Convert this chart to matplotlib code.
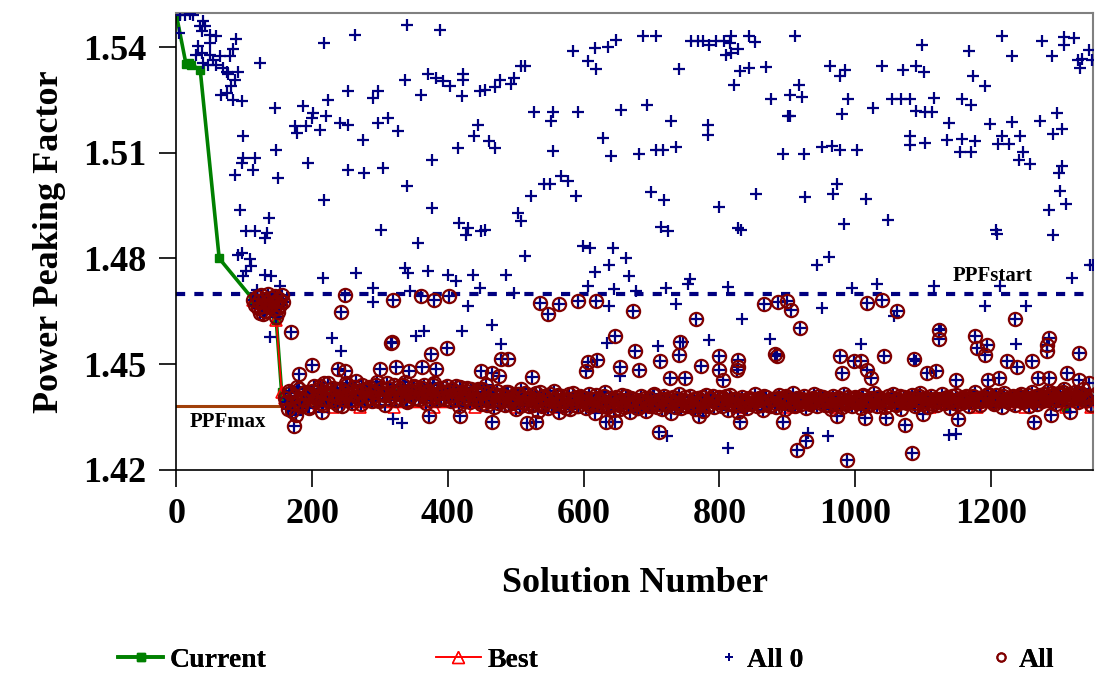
import numpy as np
import matplotlib
matplotlib.use("Agg")
import matplotlib.pyplot as plt
from matplotlib.lines import Line2D

plt.rcParams['font.family'] = ['Liberation Serif', 'DejaVu Serif']
plt.rcParams['font.weight'] = 'bold'

# Current solution trace (solution number, PPF)
current_x = [0, 14, 18, 22, 35, 63, 113, 120, 128, 136, 142, 147, 155, 160, 168, 175,
             195, 230, 270, 320, 380, 440, 500, 560, 620, 690, 760, 830, 900, 970,
             1040, 1110, 1180, 1250, 1311, 1348]
current_y = [1.5490, 1.5352, 1.5355, 1.5350, 1.5335, 1.4800, 1.4683, 1.4672, 1.4665, 1.4668,
             1.4660, 1.4626, 1.4420, 1.4405, 1.4390, 1.4377, 1.4398, 1.4412, 1.4405, 1.4418,
             1.4402, 1.4395, 1.4408, 1.4392, 1.4388, 1.4400, 1.4395, 1.4385, 1.4398, 1.4390,
             1.4402, 1.4395, 1.4388, 1.4392, 1.4378, 1.4395]

ppf_start = 1.470
ppf_max = 1.438

# solutions rejected (only "All 0", no circle)
all0_x = [5, 12, 20, 25, 39, 42, 34, 37, 49, 59, 88, 4, 49, 32, 83, 29, 37, 49, 64, 79,
          54, 123, 39, 47, 59, 69, 74, 91, 76, 86, 81, 66, 74, 83, 96, 145,
          339, 388, 263, 218, 336, 371, 383, 393, 403, 422, 422, 447, 253, 297, 290, 361,
          420, 223, 187, 201, 199, 221, 174, 191, 177, 211, 241, 253, 297, 312, 327, 275,
          444, 439, 415, 98, 147, 98, 115, 96, 113, 86, 150, 194, 253, 277, 304, 376,
          339, 218, 376, 93, 137, 103, 115, 133, 130, 302, 417, 430, 427, 449, 356, 91,
          96, 108, 110, 103, 98, 130, 140, 216, 265, 336, 341, 371, 400, 412, 437, 447,
          118, 152, 290, 344,
          454, 469, 476, 493, 498, 508, 513, 584, 606, 618, 616, 636, 648, 687, 707, 741,
          758, 768, 776, 785, 795, 807, 817, 815, 810, 817, 827, 844, 852, 830, 844, 869,
          822, 876, 901, 527, 555, 552, 591, 655, 694, 729, 783, 783, 461, 469, 555, 628,
          640, 682, 707, 717, 736, 893, 542, 550, 567, 577, 523, 589, 699, 719, 800, 854,
          503, 508, 454, 714, 724, 827, 832, 599, 609, 643, 663, 638, 616, 513, 486, 667,
          606, 645, 677, 721, 756, 753, 812, 498,
          912, 1098, 1167, 1216, 1231, 1275, 1290, 1307, 1322, 1307, 1344, 1329, 1334, 1349,
          1332, 963, 978, 985, 1039, 1071, 1089, 1101, 917, 904, 922, 1174, 1191, 990, 1054,
          1067, 1081, 1116, 1157, 1170, 981, 1027, 1089, 1103, 1113, 904, 1138, 1199, 1231,
          1273, 1297, 1292, 1305, 1081, 1081, 1103, 1135, 1157, 1177, 1155, 1170, 1216, 1211,
          1226, 1243, 1248, 1241, 1258, 924, 951, 966, 977, 1003, 973, 968, 926, 1016, 1305,
          1300, 1302, 1310, 1285, 1292, 1207, 1209, 984, 1049, 944, 961, 1346, 1319, 995,
          1032, 1116, 1214, 1350,
          289, 429, 637, 736, 951, 1057, 1192, 1252, 833, 465, 1127, 229, 353, 364, 420, 243,
          478, 634, 710, 746, 785, 874, 1009, 1237, 1089, 653, 319, 332, 723, 813, 930, 960,
          1138, 1149, 138]
all0_y = [1.5490, 1.5490, 1.5495, 1.5490, 1.5473, 1.5460, 1.5459, 1.5445, 1.5435, 1.5430,
          1.5423, 1.5440, 1.5410, 1.5404, 1.5394, 1.5378, 1.5383, 1.5378, 1.5374, 1.5374,
          1.5364, 1.5355, 1.5355, 1.5350, 1.5350, 1.5340, 1.5330, 1.5330, 1.5322, 1.5307,
          1.5288, 1.5265, 1.5270, 1.5250, 1.5246, 1.5227,
          1.5463, 1.5449, 1.5435, 1.5411, 1.5307, 1.5322, 1.5312, 1.5303, 1.5288, 1.5322,
          1.5307, 1.5274, 1.5274, 1.5274, 1.5255, 1.5265, 1.5260, 1.5250, 1.5232, 1.5213,
          1.5199, 1.5203, 1.5175, 1.5175, 1.5156, 1.5165, 1.5184, 1.5180, 1.5184, 1.5199,
          1.5161, 1.5137, 1.5180, 1.5146, 1.5113, 1.5146, 1.5109, 1.5085, 1.5085, 1.5071,
          1.5052, 1.5038, 1.5028, 1.5071, 1.5052, 1.5042, 1.5057, 1.5080, 1.5005, 1.4967,
          1.4943, 1.4938, 1.4915, 1.4877, 1.4877, 1.4872, 1.4858, 1.4882, 1.4901, 1.4886,
          1.4865, 1.4877, 1.4844, 1.4811, 1.4815, 1.4797, 1.4778, 1.4763, 1.4749, 1.4754,
          1.4749, 1.4744, 1.4759, 1.4773, 1.4759, 1.4763, 1.4754, 1.4735, 1.4754, 1.4716,
          1.4711, 1.4721, 1.4716, 1.4707,
          1.5279, 1.5287, 1.5307, 1.5296, 1.5312, 1.5347, 1.5347, 1.5388, 1.5359, 1.5338,
          1.5397, 1.5400, 1.5421, 1.5430, 1.5430, 1.5338, 1.5416, 1.5416, 1.5416, 1.5407,
          1.5416, 1.5416, 1.5430, 1.5411, 1.5378, 1.5383, 1.5394, 1.5430, 1.5413, 1.5333,
          1.5340, 1.5343, 1.5293, 1.5251, 1.5203, 1.5215, 1.5215, 1.5189, 1.5215, 1.5222,
          1.5234, 1.5189, 1.5180, 1.5151, 1.5132, 1.5113, 1.5104, 1.5142, 1.5092, 1.5097,
          1.5109, 1.5107, 1.5116, 1.5097, 1.5012, 1.5012, 1.5033, 1.5019, 1.4976, 1.4978,
          1.4988, 1.4965, 1.4946, 1.4984, 1.4929, 1.4905, 1.4880, 1.4889, 1.4877, 1.4886,
          1.4882, 1.4834, 1.4830, 1.4830, 1.4801, 1.4782, 1.4761, 1.4806, 1.4754, 1.4749,
          1.4723, 1.4713, 1.4707, 1.4716, 1.4742, 1.4726, 1.4719, 1.4702,
          1.5430, 1.5407, 1.5388, 1.5430, 1.5374, 1.5416, 1.5374, 1.5428, 1.5426, 1.5407,
          1.5392, 1.5364, 1.5366, 1.5364, 1.5340, 1.5347, 1.5319, 1.5336, 1.5345, 1.5334,
          1.5347, 1.5328, 1.5293, 1.5265, 1.5258, 1.5317, 1.5290, 1.5251, 1.5252, 1.5252,
          1.5252, 1.5255, 1.5252, 1.5236, 1.5211, 1.5226, 1.5217, 1.5215, 1.5215, 1.5205,
          1.5184, 1.5182, 1.5186, 1.5189, 1.5213, 1.5154, 1.5167, 1.5148, 1.5123, 1.5128,
          1.5137, 1.5139, 1.5132, 1.5101, 1.5101, 1.5148, 1.5126, 1.5126, 1.5148, 1.5101,
          1.5080, 1.5069, 1.5097, 1.5116, 1.5118, 1.5109, 1.5109, 1.5012, 1.4984, 1.4974,
          1.4969, 1.5063, 1.5041, 1.4990, 1.4953, 1.4938, 1.4867, 1.4880, 1.4870, 1.4899,
          1.4910, 1.4782, 1.4804, 1.4782, 1.4744, 1.4716, 1.4726, 1.4721, 1.4723, 1.4780,
          1.4675, 1.4666, 1.4666, 1.4671, 1.4659, 1.4637, 1.4666, 1.4664, 1.4628, 1.4612,
          1.4599, 1.4574, 1.4579, 1.4593, 1.4593, 1.4536, 1.4558, 1.4560, 1.4552, 1.4564,
          1.4567, 1.4571, 1.4558, 1.4558, 1.4508, 1.4467, 1.4344, 1.4333, 1.4295, 1.4262,
          1.4304, 1.4297, 1.4300, 1.4302, 1.4577]

# accepted solutions off the main band (circled)
all_x = [113, 116, 118, 120, 122, 125, 127, 129, 131, 133, 135, 137, 139, 141, 143, 145,
         147, 149, 151, 153, 155, 157, 128, 146, 150, 123,
         248, 243, 319, 360, 379, 401, 536, 564, 547, 591, 618, 672, 765, 866, 887, 900,
         906, 1017, 1039, 1061, 1236, 919, 169, 317, 1124, 1124, 1176, 1194, 1179, 1192,
         1286, 1282, 1282, 1330, 646, 676, 742, 740, 713, 799, 828, 828, 882, 885, 977, 998,
         1009, 1043, 1086, 1224, 1260, 1239, 980, 1017, 1024, 1106, 1119, 1149, 1196, 1212,
         1269, 1286, 1312, 1330, 1344, 316, 375, 398, 478, 489, 200, 180, 238, 248, 300, 323,
         343, 362, 383, 448, 465, 475, 524, 606, 620, 603, 654, 682, 773, 799, 805, 826, 749,
         727,
         173, 214, 372, 418, 465, 517, 530, 633, 646, 770, 831, 893, 973, 1014, 1046, 1074,
         1100, 1151, 1263, 1289, 711, 914, 928, 988, 1084, 1316]
all_y = [1.4683, 1.4668, 1.4690, 1.4660, 1.4678, 1.4695, 1.4665, 1.4685, 1.4652, 1.4675,
         1.4698, 1.4662, 1.4688, 1.4670, 1.4655, 1.4692, 1.4678, 1.4660, 1.4685, 1.4668,
         1.4695, 1.4675, 1.4642, 1.4635, 1.4648, 1.4646,
         1.4697, 1.4647, 1.4683, 1.4694, 1.4681, 1.4694, 1.4673, 1.4671, 1.4643, 1.4678,
         1.4680, 1.4650, 1.4628, 1.4671, 1.4675, 1.4678, 1.4654, 1.4673, 1.4681, 1.4650,
         1.4628, 1.4602, 1.4591, 1.4563, 1.4597, 1.4571, 1.4580, 1.4555, 1.4545, 1.4527,
         1.4574, 1.4555, 1.4536, 1.4531, 1.4580, 1.4536, 1.4562, 1.4527, 1.4510, 1.4524,
         1.4512, 1.4492, 1.4529, 1.4524, 1.4524, 1.4510, 1.4510, 1.4522, 1.4514, 1.4510,
         1.4510, 1.4492, 1.4476, 1.4484, 1.4460, 1.4476, 1.4479, 1.4456, 1.4456, 1.4460,
         1.4460, 1.4460, 1.4474, 1.4456, 1.4446, 1.4561, 1.4529, 1.4545, 1.4514, 1.4514,
         1.4498, 1.4473, 1.4486, 1.4479, 1.4486, 1.4493, 1.4479, 1.4492, 1.4486, 1.4479,
         1.4476, 1.4467, 1.4463, 1.4505, 1.4512, 1.4479, 1.4492, 1.4484, 1.4495, 1.4484,
         1.4456, 1.4484, 1.4460, 1.4460,
         1.4323, 1.4363, 1.4353, 1.4353, 1.4335, 1.4333, 1.4335, 1.4335, 1.4335, 1.4353,
         1.4335, 1.4337, 1.4353, 1.4347, 1.4347, 1.4328, 1.4359, 1.4344, 1.4337, 1.4356,
         1.4306, 1.4257, 1.4281, 1.4229, 1.4249, 1.4363]

# main band of accepted solutions, every 4th solution from 160
band_x = np.arange(160, 1349, 4)
band_y = [1.4405, 1.4372, 1.4418, 1.4390, 1.4355, 1.4428, 1.4381, 1.4398, 1.4412, 1.4376,
          1.4425, 1.4395, 1.4410, 1.4438, 1.4385, 1.4402, 1.4447, 1.4415, 1.4392, 1.4430,
          1.4408, 1.4380, 1.4422, 1.4440, 1.4398, 1.4415, 1.4452, 1.4405, 1.4388, 1.4426,
          1.4412, 1.4436, 1.4395, 1.4420, 1.4448, 1.4402, 1.4418, 1.4385, 1.4432, 1.4410,
          1.4440, 1.4398, 1.4425, 1.4413, 1.4450, 1.4392, 1.4420, 1.4436, 1.4405, 1.4428,
          1.4415, 1.4442, 1.4390, 1.4422, 1.4408, 1.4445, 1.4398, 1.4418, 1.4432, 1.4402,
          1.4425, 1.4395, 1.4412, 1.4438, 1.4382, 1.4420, 1.4405, 1.4432, 1.4392, 1.4415,
          1.4402, 1.4430, 1.4388, 1.4418, 1.4440, 1.4395, 1.4410, 1.4378, 1.4425, 1.4398,
          1.4412, 1.4385, 1.4420, 1.4395, 1.4405, 1.4372, 1.4415, 1.4428, 1.4390, 1.4402,
          1.4380, 1.4412, 1.4395, 1.4368, 1.4420, 1.4388, 1.4405, 1.4375, 1.4398, 1.4425,
          1.4390, 1.4365, 1.4410, 1.4385, 1.4402, 1.4372, 1.4418, 1.4395, 1.4380, 1.4408,
          1.4392, 1.4375, 1.4415, 1.4388, 1.4362, 1.4405, 1.4398, 1.4380, 1.4420, 1.4385,
          1.4395, 1.4370, 1.4408, 1.4385, 1.4412, 1.4378, 1.4395, 1.4365, 1.4402, 1.4388,
          1.4375, 1.4410, 1.4392, 1.4368, 1.4405, 1.4385, 1.4415, 1.4378, 1.4398, 1.4372,
          1.4400, 1.4385, 1.4362, 1.4408, 1.4390, 1.4415, 1.4375, 1.4398, 1.4382, 1.4410,
          1.4388, 1.4372, 1.4405, 1.4395, 1.4368, 1.4412, 1.4385, 1.4400, 1.4378, 1.4392,
          1.4408, 1.4380, 1.4395, 1.4370, 1.4412, 1.4388, 1.4402, 1.4365, 1.4398, 1.4385,
          1.4375, 1.4405, 1.4390, 1.4415, 1.4380, 1.4398, 1.4370, 1.4408, 1.4392, 1.4385,
          1.4400, 1.4378, 1.4412, 1.4390, 1.4372, 1.4405, 1.4395, 1.4418, 1.4382, 1.4398,
          1.4388, 1.4410, 1.4375, 1.4402, 1.4392, 1.4415, 1.4380, 1.4398, 1.4408, 1.4385,
          1.4395, 1.4372, 1.4410, 1.4388, 1.4405, 1.4378, 1.4415, 1.4392, 1.4400, 1.4382,
          1.4408, 1.4390, 1.4375, 1.4412, 1.4398, 1.4385, 1.4405, 1.4418, 1.4380, 1.4395,
          1.4402, 1.4378, 1.4410, 1.4392, 1.4415, 1.4385, 1.4398, 1.4372, 1.4408, 1.4390,
          1.4395, 1.4412, 1.4382, 1.4400, 1.4418, 1.4388, 1.4405, 1.4378, 1.4410, 1.4395,
          1.4385, 1.4402, 1.4415, 1.4390, 1.4408, 1.4375, 1.4398, 1.4412, 1.4388, 1.4405,
          1.4392, 1.4410, 1.4380, 1.4402, 1.4420, 1.4395, 1.4385, 1.4408, 1.4398, 1.4415,
          1.4405, 1.4388, 1.4412, 1.4395, 1.4378, 1.4418, 1.4400, 1.4390, 1.4410, 1.4385,
          1.4398, 1.4415, 1.4392, 1.4405, 1.4380, 1.4420, 1.4402, 1.4388, 1.4412, 1.4395,
          1.4408, 1.4425, 1.4395, 1.4412, 1.4388, 1.4418, 1.4402, 1.4430, 1.4398, 1.4415,
          1.4405, 1.4422, 1.4392, 1.4415, 1.4428, 1.4398, 1.4410, 1.4385]

# second layer of the band, offset by two solutions
band2_x = np.arange(162, 1347, 4)
band2_y = [1.4392, 1.4425, 1.4368, 1.4410, 1.4435, 1.4385, 1.4402, 1.4420, 1.4378, 1.4415,
           1.4438, 1.4405, 1.4428, 1.4390, 1.4445, 1.4418, 1.4398, 1.4432, 1.4410, 1.4385,
           1.4428, 1.4402, 1.4445, 1.4415, 1.4390, 1.4435, 1.4408, 1.4425, 1.4442, 1.4398,
           1.4430, 1.4405, 1.4422, 1.4440, 1.4395, 1.4428, 1.4412, 1.4445, 1.4402, 1.4420,
           1.4418, 1.4435, 1.4405, 1.4442, 1.4398, 1.4425, 1.4410, 1.4438, 1.4420, 1.4400,
           1.4432, 1.4408, 1.4425, 1.4398, 1.4440, 1.4415, 1.4430, 1.4405, 1.4422, 1.4438,
           1.4410, 1.4428, 1.4400, 1.4420, 1.4435, 1.4395, 1.4425, 1.4412, 1.4430, 1.4402,
           1.4420, 1.4395, 1.4428, 1.4405, 1.4385, 1.4422, 1.4398, 1.4415, 1.4390, 1.4412,
           1.4398, 1.4420, 1.4388, 1.4410, 1.4392, 1.4415, 1.4382, 1.4405, 1.4418, 1.4390,
           1.4405, 1.4385, 1.4418, 1.4398, 1.4380, 1.4410, 1.4392, 1.4415, 1.4385, 1.4402,
           1.4412, 1.4388, 1.4398, 1.4375, 1.4415, 1.4392, 1.4405, 1.4382, 1.4410, 1.4395,
           1.4405, 1.4390, 1.4380, 1.4402, 1.4412, 1.4385, 1.4395, 1.4410, 1.4378, 1.4400,
           1.4385, 1.4402, 1.4392, 1.4372, 1.4398, 1.4410, 1.4382, 1.4405, 1.4390, 1.4375,
           1.4398, 1.4385, 1.4405, 1.4392, 1.4380, 1.4412, 1.4395, 1.4388, 1.4402, 1.4410,
           1.4388, 1.4405, 1.4395, 1.4378, 1.4402, 1.4390, 1.4385, 1.4408, 1.4395, 1.4380,
           1.4402, 1.4390, 1.4385, 1.4408, 1.4395, 1.4380, 1.4400, 1.4410, 1.4392, 1.4405,
           1.4392, 1.4405, 1.4410, 1.4388, 1.4398, 1.4402, 1.4385, 1.4395, 1.4408, 1.4390,
           1.4398, 1.4388, 1.4402, 1.4395, 1.4405, 1.4385, 1.4410, 1.4392, 1.4380, 1.4400,
           1.4390, 1.4405, 1.4395, 1.4402, 1.4410, 1.4388, 1.4398, 1.4385, 1.4405, 1.4392,
           1.4402, 1.4395, 1.4392, 1.4388, 1.4405, 1.4398, 1.4410, 1.4390, 1.4395, 1.4402,
           1.4385, 1.4402, 1.4395, 1.4405, 1.4390, 1.4398, 1.4388, 1.4408, 1.4392, 1.4400,
           1.4395, 1.4402, 1.4410, 1.4390, 1.4385, 1.4400, 1.4392, 1.4395, 1.4408, 1.4402,
           1.4390, 1.4398, 1.4395, 1.4405, 1.4388, 1.4402, 1.4410, 1.4392, 1.4395, 1.4405,
           1.4402, 1.4390, 1.4398, 1.4410, 1.4392, 1.4405, 1.4395, 1.4400, 1.4388, 1.4402,
           1.4398, 1.4392, 1.4402, 1.4405, 1.4395, 1.4410, 1.4390, 1.4398, 1.4402, 1.4392,
           1.4405, 1.4398, 1.4392, 1.4410, 1.4400, 1.4405, 1.4395, 1.4402, 1.4412, 1.4398,
           1.4392, 1.4402, 1.4398, 1.4405, 1.4410, 1.4395, 1.4402, 1.4408, 1.4398, 1.4405,
           1.4410, 1.4402, 1.4398, 1.4412, 1.4405, 1.4395, 1.4410, 1.4402, 1.4398, 1.4415,
           1.4402, 1.4410, 1.4418, 1.4405, 1.4398, 1.4412, 1.4420, 1.4408, 1.4415, 1.4405,
           1.4412, 1.4405, 1.4418, 1.4402, 1.4410, 1.4398, 1.4408]

xticks = [0, 200, 400, 600, 800, 1000, 1200]
yticks = [1.42, 1.45, 1.48, 1.51, 1.54]

# best so far = running minimum of current, tracked from the first accepted solution
best_x = current_x[6:]
best_y = np.minimum.accumulate(current_y[6:])

acc_x = np.concatenate([all_x, band_x, band2_x])
acc_y = np.concatenate([all_y, band_y, band2_y])
a0_x = np.concatenate([all0_x, acc_x])
a0_y = np.concatenate([all0_y, acc_y])

fig = plt.figure(figsize=(10.96, 6.75), dpi=100)
ax = fig.add_axes([0.161, 0.304, 0.836, 0.677])

ax.axhline(ppf_max, color='#A0400A', lw=2.2, zorder=1)
ax.axhline(ppf_start, color='#000080', lw=3, ls=(0, (2.2, 2.2)), zorder=1)

ax.plot(current_x, current_y, color='#008000', lw=2.6, marker='s', ms=6,
        mfc='#008000', mec='#008000', zorder=2)
ax.plot(best_x, best_y, color='red', lw=1.2, marker='^', ms=9,
        mfc='none', mec='red', mew=1.2, zorder=3)
ax.plot(a0_x, a0_y, ls='none', marker='+', ms=8, mew=1.6, color='#000080', zorder=4)
ax.plot(acc_x, acc_y, ls='none', marker='o', ms=9.5, mfc='none', mec='#800000',
        mew=1.6, zorder=5)

ax.text(1144, 1.4751, 'PPFstart', fontsize=15, fontweight='bold', va='center', zorder=6)
ax.text(20, 1.4336, 'PPFmax', fontsize=15, fontweight='bold', va='center', zorder=6)

ax.set_xlim(0, 1350)
ax.set_ylim(1.42, 1.5497)
ax.set_xticks(xticks)
ax.set_yticks(yticks)
ax.set_xticklabels([str(t) for t in xticks], fontsize=26, fontweight='bold')
ax.set_yticklabels(['%.2f' % t for t in yticks], fontsize=26, fontweight='bold')
ax.tick_params(axis='both', direction='out', length=12, width=1.2, color='black')
ax.tick_params(axis='x', pad=8)
ax.tick_params(axis='y', pad=10)
for s in ['top', 'right']:
    ax.spines[s].set_color('#808080')
    ax.spines[s].set_linewidth(1.5)
for s in ['left', 'bottom']:
    ax.spines[s].set_color('black')
    ax.spines[s].set_linewidth(1.2)

ax.set_xlabel('Solution Number', fontsize=26, fontweight='bold', labelpad=26)
ax.set_ylabel('Power Peaking Factor', fontsize=26, fontweight='bold', labelpad=12)

# legend entries placed along the bottom
entries = [
    (Line2D([], [], color='#008000', lw=2.6, marker='s', ms=6), 'Current', 0.108, 1.6),
    (Line2D([], [], color='red', lw=1.2, marker='^', ms=9, mfc='none', mec='red'), 'Best', 0.398, 1.6),
    (Line2D([], [], ls='none', marker='+', ms=6, mew=1.4, color='#000080'), 'All 0', 0.655, 0.8),
    (Line2D([], [], ls='none', marker='o', ms=6, mfc='none', mec='#800000', mew=1.4), 'All', 0.903, 0.8),
]
for h, lab, x0, hl in entries:
    leg = fig.legend([h], [lab], loc='center left', bbox_to_anchor=(x0, 0.022),
                     frameon=False, fontsize=20, handlelength=hl, handletextpad=0.25,
                     borderpad=0, borderaxespad=0)
    fig.add_artist(leg)

fig.savefig('out.png', dpi=100)
